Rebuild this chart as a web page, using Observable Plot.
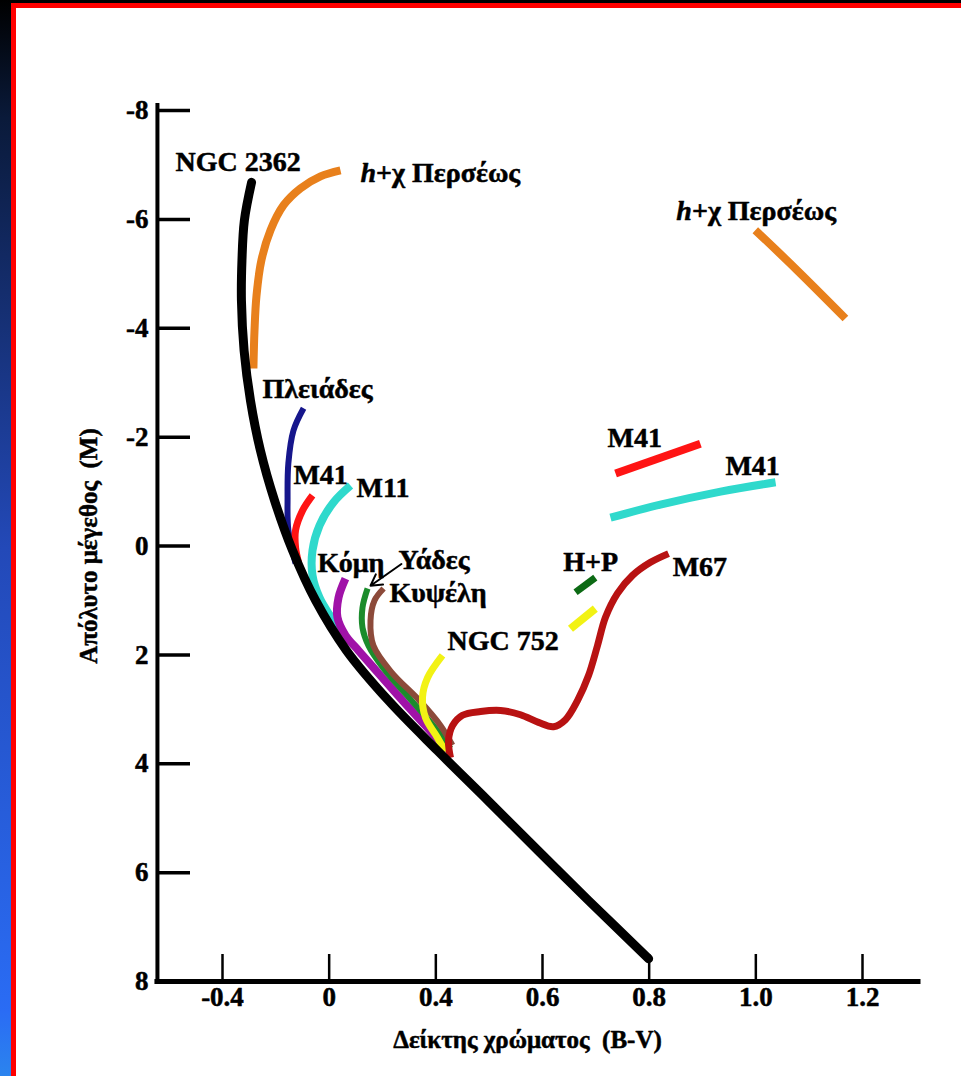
<!DOCTYPE html>
<html>
<head>
<meta charset="utf-8">
<script src="https://cdn.jsdelivr.net/npm/d3@7"></script>
<script src="https://cdn.jsdelivr.net/npm/@observablehq/plot@0.6"></script>
<style>
  html, body { margin: 0; padding: 0; overflow: hidden; }
  #bg { position: absolute; left: 0; top: 0; width: 961px; height: 1076px;
        background: linear-gradient(to bottom, #000000 0%, #0a1a3a 11%, #2349b8 51%, #2a6cf4 94%, #2b84ee 100%); }
  #red { position: absolute; left: 11px; top: 3px; width: 950px; height: 1073px; background: #ff0000; }
  #white { position: absolute; left: 16px; top: 8px; width: 945px; height: 1068px; background: #ffffff; }
  #chart { position: absolute; left: 0; top: 0; }
</style>
</head>
<body>
<div id="bg"></div>
<div id="red"></div>
<div id="white"></div>
<div id="chart"></div>
<script>
// ---- axis ticks ----
const xTicks = [-0.4, 0, 0.4, 0.6, 0.8, 1.0, 1.2];
const xTickLabels = ["-0.4", "0", "0.4", "0.6", "0.8", "1.0", "1.2"];
const yTicks = [-8, -6, -4, -2, 0, 2, 4, 6, 8];
const yTickLabels = ["-8", "-6", "-4", "-2", "0", "2", "4", "6", "8"];
const xTitle = "Δείκτης χρώματος\u00a0 (B-V)";
const yTitle = "Απόλυτο μέγεθος\u00a0 (M)";
// axis line extents (data units)
const xAxisStart = -0.644, xAxisEnd = 1.305, yAxisTop = -8.09;

// ---- cluster sequences [B-V, M] ----
const ngc2362 = [[-0.291,-6.68],[-0.318,-5.98],[-0.327,-5.25],[-0.329,-4.51],[-0.319,-3.59],[-0.295,-2.67],[-0.258,-1.76],[-0.205,-0.84],[-0.1375,0.08],[-0.051,1.00],[0.065,1.92],[0.2225,2.84],[0.403,3.76],[0.497,4.67],[0.591,5.59],[0.686,6.51],[0.799,7.58]];
const hPerseiLeft = [[0.0425,-6.90],[-0.0325,-6.79],[-0.1075,-6.57],[-0.171,-6.26],[-0.22,-5.80],[-0.254,-5.25],[-0.2725,-4.60],[-0.28,-3.96],[-0.284,-3.26]];
const hPerseiRight = [[0.999,-5.80],[1.078,-5.06],[1.168,-4.18]];
const pleiades = [[-0.096,-2.53],[-0.134,-2.12],[-0.153,-1.52],[-0.156,-0.89],[-0.153,-0.29],[-0.126,0.32]];
const m41Main = [[-0.0625,-0.93],[-0.10,-0.65],[-0.126,-0.29],[-0.126,0.03],[-0.115,0.30]];
const m11 = [[0.080,-1.11],[0.016,-0.80],[-0.036,-0.38],[-0.0625,0.08],[-0.0625,0.54],[-0.036,0.95],[0.001,1.26],[0.0425,1.55]];
const coma = [[0.061,0.60],[0.035,0.95],[0.031,1.31],[0.061,1.64],[0.110,1.92],[0.1925,2.38],[0.275,2.84],[0.361,3.30],[0.422,3.76]];
const hyades = [[0.144,0.78],[0.125,1.13],[0.125,1.50],[0.1475,1.83],[0.204,2.25],[0.309,2.84],[0.391,3.30],[0.4275,3.72]];
const praesepe = [[0.204,0.78],[0.170,1.00],[0.155,1.37],[0.166,1.83],[0.234,2.32],[0.339,2.84],[0.409,3.30],[0.431,3.66]];
const ngc752 = [[0.4125,2.01],[0.369,2.42],[0.350,2.78],[0.361,3.15],[0.403,3.52],[0.418,3.78]];
const ngc752Giants = [[0.6525,1.52],[0.699,1.15]];
const hpGiants = [[0.662,0.85],[0.699,0.58]];
const m41RedGiants = [[0.737,-1.33],[0.896,-1.88]];
const m41CyanGiants = [[0.7275,-0.52],[0.821,-0.76],[0.934,-1.00],[1.037,-1.17]];
const m67 = [[0.4275,3.89],[0.4238,3.57],[0.4313,3.30],[0.45,3.11],[0.4838,3.04],[0.5213,3.02],[0.5588,3.10],[0.5925,3.24],[0.6206,3.32],[0.6431,3.19],[0.6656,2.84],[0.6863,2.38],[0.7031,1.83],[0.7181,1.31],[0.7406,0.87],[0.7688,0.54],[0.8025,0.30],[0.8363,0.14]];

// ---- labels ----
const labelTexts = ["NGC 2362", "h+χ Περσέως", "h+χ Περσέως", "Πλειάδες", "M41", "M11", "Κόμη", "Υάδες", "Κυψέλη", "NGC 752", "H+P", "M67", "M41", "M41"];
const labelBV = [-0.576, 0.1175, 0.851, -0.25, -0.134, 0.1025, -0.044, 0.26, 0.226, 0.422, 0.639, 0.844, 0.722, 0.943];
const labelM = [-7.06, -6.86, -6.16, -2.89, -1.31, -1.06, 0.31, 0.25, 0.87, 1.74, 0.30, 0.38, -1.98, -1.46];
const arrowFrom = [0.271, 0.33];
const arrowTo = [0.155, 0.73];

// ---- styles ----
const seriesStyle = [
  {pts: hPerseiLeft, color: "#e8801c", width: 8},
  {pts: hPerseiRight, color: "#e8801c", width: 8},
  {pts: pleiades, color: "#16168c", width: 6},
  {pts: m41Main, color: "#ff1414", width: 7},
  {pts: m11, color: "#2fd9cc", width: 8},
  {pts: coma, color: "#a012a8", width: 8},
  {pts: hyades, color: "#1b8c2c", width: 6},
  {pts: praesepe, color: "#8c4a3a", width: 6},
  {pts: ngc752, color: "#f2f214", width: 7},
  {pts: ngc752Giants, color: "#f2f214", width: 8},
  {pts: hpGiants, color: "#0c6a14", width: 7},
  {pts: m41RedGiants, color: "#ff1414", width: 8},
  {pts: m41CyanGiants, color: "#2fd9cc", width: 8},
  {pts: m67, color: "#b81212", width: 7}
];

const rows = pts => pts.map(([bv, m]) => ({bv, m}));
const labels = labelTexts.map((t, i) => ({t, bv: labelBV[i], m: labelM[i]}));
const heavy = {fill: "black", stroke: "black", strokeWidth: 0.5};

const chart = Plot.plot({
  width: 961,
  height: 1076,
  marginLeft: 222,
  marginRight: 99,
  marginTop: 110,
  marginBottom: 95,
  x: {type: "linear", domain: xTicks},
  y: {domain: [-8, 8], reverse: true},
  style: {background: "transparent", fontFamily: "'Liberation Serif', 'Times New Roman', serif", fontWeight: "bold", color: "black"},
  marks: [
    ...seriesStyle.map(s => Plot.line(rows(s.pts), {x: "bv", y: "m", stroke: s.color, strokeWidth: s.width, curve: "catmull-rom", strokeLinecap: "butt", strokeLinejoin: "round"})),
    Plot.line(rows(ngc2362), {x: "bv", y: "m", stroke: "black", strokeWidth: 9, curve: "catmull-rom", strokeLinecap: "round"}),
    // axes
    Plot.ruleY([8], {x1: xAxisStart, x2: xAxisEnd, strokeWidth: 5, strokeLinecap: "square"}),
    Plot.ruleX([xAxisStart], {y1: yAxisTop, y2: 8, strokeWidth: 4, strokeLinecap: "square"}),
    Plot.axisY(yTicks, {anchor: "left", tickSize: -33, dx: -65, strokeWidth: 3.5, fill: "none", label: null}),
    Plot.axisX(xTicks, {anchor: "bottom", tickSize: -27, strokeWidth: 2.5, fill: "none", label: null}),
    Plot.text(yTicks, {y: d => d, text: (d, i) => yTickLabels[i], frameAnchor: "left", dx: -74, textAnchor: "end", fontSize: 27, ...heavy}),
    Plot.text(xTicks, {x: d => d, text: (d, i) => xTickLabels[i], frameAnchor: "bottom", dy: 24, fontSize: 27, ...heavy}),
    Plot.text([xTitle], {text: d => d, frameAnchor: "bottom", textAnchor: "middle", dx: -15, dy: 66, fontSize: 25, ...heavy}),
    Plot.text([yTitle], {text: d => d, frameAnchor: "left", textAnchor: "middle", dx: -134, rotate: -90, fontSize: 25, ...heavy}),
    // labels
    Plot.text(labels, {x: "bv", y: "m", text: "t", textAnchor: "start", fontSize: 28, ...heavy}),
    Plot.arrow([{x1: arrowFrom[0], y1: arrowFrom[1], x2: arrowTo[0], y2: arrowTo[1]}], {x1: "x1", y1: "y1", x2: "x2", y2: "y2", strokeWidth: 2, headLength: 10, stroke: "black"})
  ]
});

// italic "h" in "h+χ Περσέως"
chart.querySelectorAll("text").forEach(t => {
  if (t.textContent === "h+χ Περσέως") {
    t.textContent = "";
    const ns = "http://www.w3.org/2000/svg";
    const a = document.createElementNS(ns, "tspan");
    a.setAttribute("font-style", "italic");
    a.textContent = "h";
    const b = document.createElementNS(ns, "tspan");
    b.textContent = "+χ Περσέως";
    t.appendChild(a); t.appendChild(b);
  }
});
document.getElementById("chart").appendChild(chart);
</script>
</body>
</html>
